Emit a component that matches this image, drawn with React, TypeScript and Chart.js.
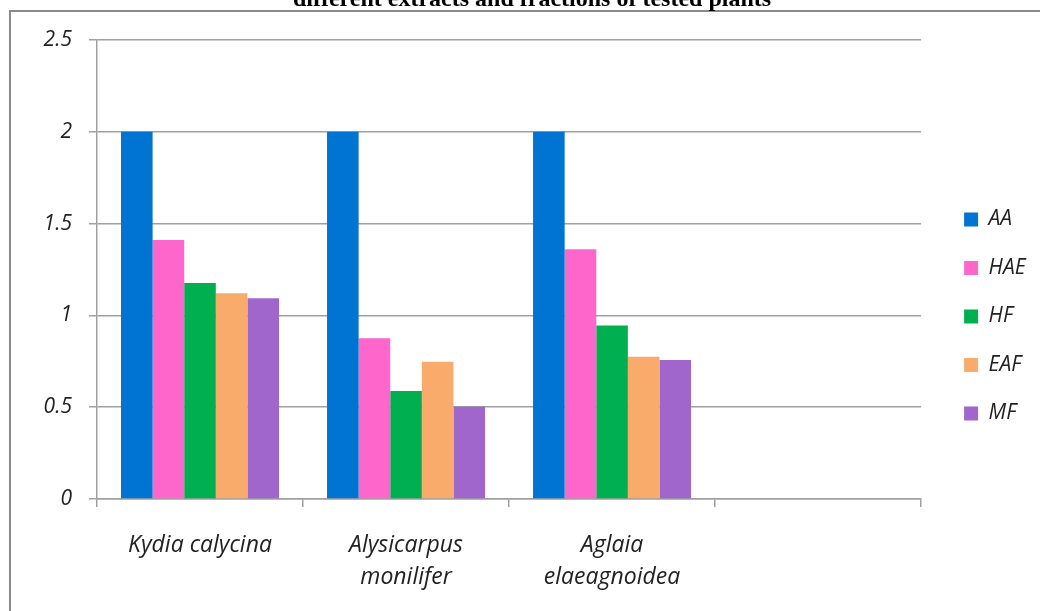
import React, { useEffect, useRef } from "react";
import { Chart, registerables } from "chart.js";

Chart.register(...registerables);

const categories: (string | string[])[] = [
  "Kydia calycina",
  ["Alysicarpus", "monilifer"],
  ["Aglaia", "elaeagnoidea"],
  "",
];
const seriesNames = ["AA", "HAE", "HF", "EAF", "MF"];
const seriesColors = ["#0074D2", "#FF66CC", "#00B050", "#F9AB6C", "#A066CC"];
const aaValues = [2, 2, 2, null];
const haeValues = [1.41, 0.875, 1.36, null];
const hfValues = [1.177, 0.588, 0.945, null];
const eafValues = [1.12, 0.748, 0.775, null];
const mfValues = [1.093, 0.503, 0.757, null];
const yTicks = { min: 0, max: 2.5, step: 0.5 };
const titleText = "different extracts and fractions of tested plants";

const legendShift = {
  id: "legendShift",
  afterLayout(chart: any) {
    const lg = chart.legend;
    if (!lg) return;
    const dx = 15.5;
    const dy = -9;
    lg.left += dx;
    lg.right += dx;
    lg.top += dy;
    lg.bottom += dy;
  },
};

export default function App() {
  const ref = useRef<HTMLCanvasElement>(null);
  useEffect(() => {
    if (!ref.current) return;
    const values = [aaValues, haeValues, hfValues, eafValues, mfValues];
    const fam = "'Open Sans'";
    const chart = new Chart(ref.current, {
      type: "bar",
      data: {
        labels: categories,
        datasets: seriesNames.map((name, i) => ({
          label: name,
          data: values[i],
          backgroundColor: seriesColors[i],
          borderWidth: 0,
          categoryPercentage: 0.767,
          barPercentage: 1,
        })),
      },
      options: {
        responsive: false,
        animation: false,
        layout: { padding: { top: 40, bottom: 0, left: 0, right: 20 } },
        plugins: {
          title: { display: false },
          tooltip: { enabled: false },
          legend: {
            position: "right",
            labels: {
              boxWidth: 14,
              boxHeight: 14,
              padding: 27.5,
              color: "#222",
              font: { family: fam, size: 21, style: "italic" },
            },
          },
        },
        scales: {
          x: {
            grid: {
              drawOnChartArea: false,
              drawTicks: true,
              tickLength: 8,
              color: "#a0a0a0",
              lineWidth: 1.5,
            },
            border: { color: "#a0a0a0", width: 1.5 },
            ticks: {
              color: "#222",
              font: { family: fam, size: 23, style: "italic", lineHeight: 1.39 },
              padding: 22,
              maxRotation: 0,
              autoSkip: false,
            },
            afterFit: (s: any) => {
              s.height = 112;
            },
          },
          y: {
            min: yTicks.min,
            max: yTicks.max,
            grid: {
              color: "#a0a0a0",
              lineWidth: 1.5,
              tickLength: 8,
            },
            border: { color: "#a0a0a0", width: 1.5 },
            ticks: {
              stepSize: yTicks.step,
              color: "#222",
              font: { family: fam, size: 21, style: "italic" },
              padding: 17,
              callback: (v: any) => String(v),
            },
            afterFit: (s: any) => {
              s.width = 97;
            },
          },
        },
      },
      plugins: [legendShift],
    });
    return () => chart.destroy();
  }, []);

  return (
    <div
      style={{
        position: "fixed",
        left: 0,
        top: 0,
        width: 1040,
        height: 611,
        overflow: "hidden",
        background: "#fff",
      }}
    >
      <canvas
        ref={ref}
        width={1040}
        height={611}
        style={{ position: "absolute", left: 0, top: 0, width: 1040, height: 611 }}
      />
      <div
        style={{
          position: "absolute",
          left: 9,
          top: 10,
          width: 1100,
          height: 700,
          borderLeft: "2px solid #8a8a8a",
          borderTop: "2px solid #8a8a8a",
          pointerEvents: "none",
        }}
      />
      <div
        style={{
          position: "absolute",
          left: 0,
          width: 1064,
          top: -14,
          lineHeight: "24px",
          fontSize: 24,
          fontWeight: "bold",
          fontFamily: "'Liberation Serif', 'Times New Roman', serif",
          textAlign: "center",
          whiteSpace: "nowrap",
          color: "#000",
        }}
      >
        {titleText}
      </div>
    </div>
  );
}
